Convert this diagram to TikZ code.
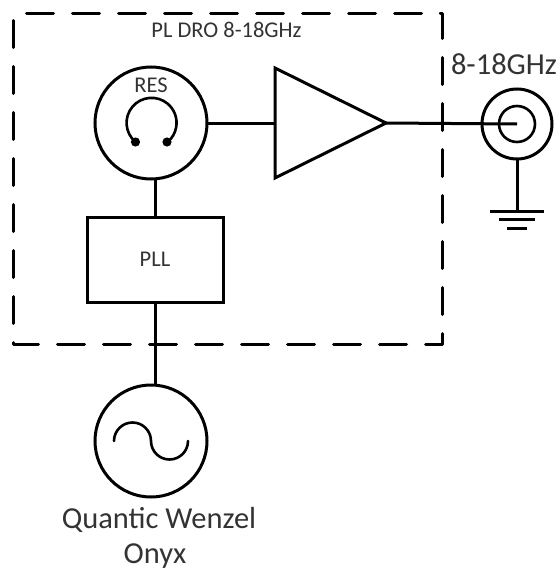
\documentclass[tikz,border=0pt]{standalone}
\usepackage{fontspec}
\setmainfont{Carlito}
\usetikzlibrary{shapes.geometric}
\definecolor{txt}{HTML}{333333}
\tikzset{
  wire/.style={line width=3pt},
  ring/.style={circle,draw,line width=3pt,inner sep=0pt,outer sep=0pt,minimum size=#1},
  boxx/.style={draw,line width=3pt,inner sep=0pt,outer sep=0pt,text=txt,font=\fontsize{22.5}{22.5}\selectfont},
  lab/.style={inner sep=0pt,outer sep=0pt,text=txt},
  small/.style={lab,font=\fontsize{22.5}{22.5}\selectfont},
  big/.style={lab,font=\fontsize{30.5}{30.5}\selectfont},
}
\begin{document}
\begin{tikzpicture}[x=1pt,y=-1pt]
\useasboundingbox (0,0) rectangle (559,570);
% dashed enclosure, drawn clockwise from the top left corner
\draw[line width=3pt,line cap=round,dash pattern=on 27pt off 19pt,dash phase=32.5pt,line join=round]
  (13,13) -- (442,13) -- (442,344) -- (13,344) -- (13,13);
% nodes
\node[ring=112pt] (res) at (151,123) {};
\node[ring=112pt] (src) at (151,441) {};
\node[boxx,minimum width=136pt,minimum height=85pt] (pll) at (155,259.5) {PLL};
\coordinate (tl) at (275,68);
\coordinate (bl) at (275,178);
\coordinate (tip) at (386,123);
\coordinate (in) at (275,123);
\draw[wire,line join=miter] (tl) -- (tip) -- (bl) -- cycle;
\node[ring=70pt] (conn) at (517,124) {};
\node[ring=36pt,line width=2.6pt] (conni) at (517,124) {};
\coordinate (cc) at (517,124);
\coordinate (gnd) at (517,211);
% connectors
\draw[wire] (res.east) -- (in);
\draw[wire] (tip) -- (cc);
\draw[wire] (conn.south) -- (gnd);
\draw[wire] (pll.north) -- (res.south -| pll.north);
\draw[wire] (pll.south) -- (src.north -| pll.south);
% ground
\draw[wire] (490,211) -- (544,211);
\draw[wire] (499,219.5) -- (535,219.5);
\draw[wire] (507,228) -- (527,228);
% resonator symbol
\draw[line width=2.6pt] (135.5,142) arc[start angle=230,end angle=-50,radius=25pt];
\fill (135.5,142) circle[radius=4.6pt];
\fill (167,142) circle[radius=4.6pt];
% sine
\draw[line width=2.6pt,line cap=round] (114,441) arc[start angle=180,end angle=0,radius=18.5pt]
  arc[start angle=180,end angle=360,radius=18.5pt];
% labels
\node[small] (t1) at (226.5,30) {PL DRO 8-18GHz};
\node[small] (t2) at (151,85) {RES};
\node[big] (t3) at (504,64) {8-18GHz};
\node[big] (t4) at (159,520) {Quantic Wenzel};
\node[big] (t5) at (155,556) {Onyx};
\end{tikzpicture}
\end{document}
